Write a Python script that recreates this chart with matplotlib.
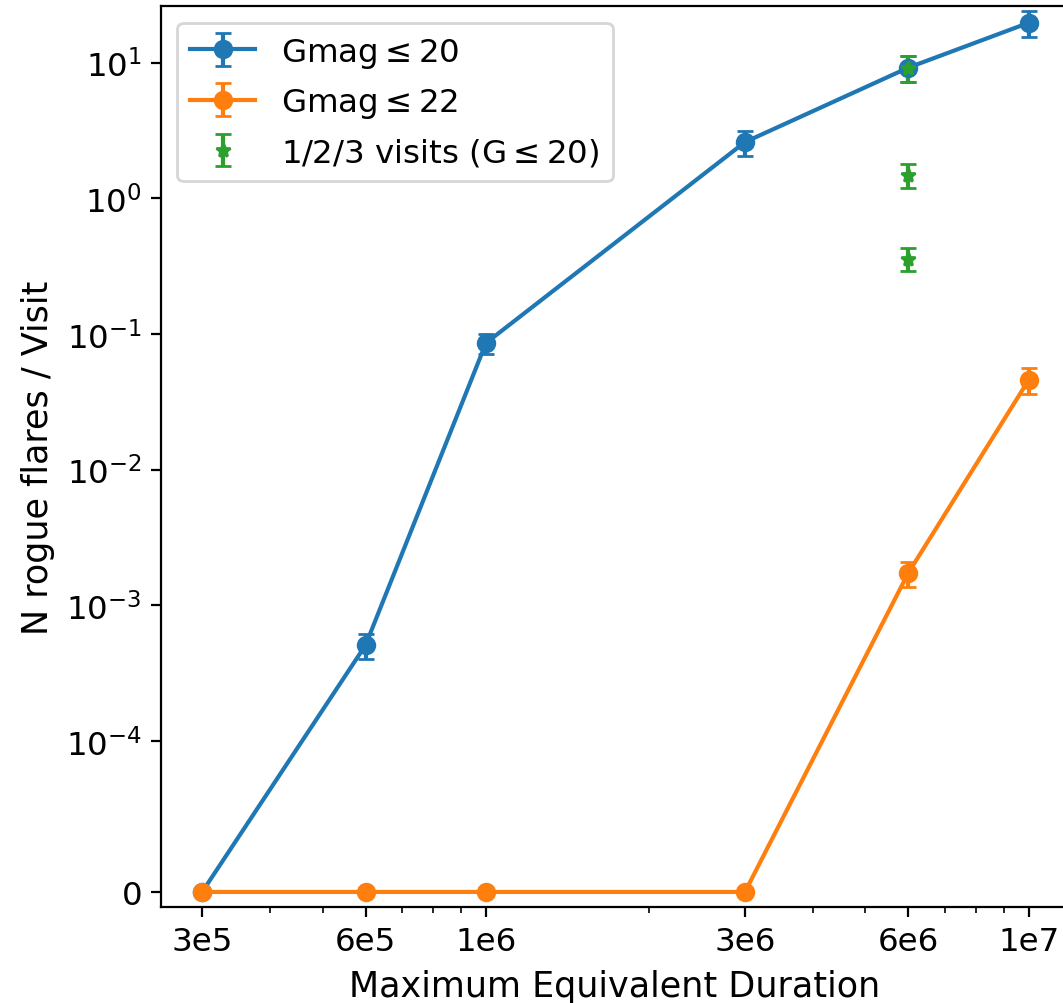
import numpy as np
import matplotlib
matplotlib.use('Agg')
from matplotlib import pyplot as plt
from matplotlib import ticker

#数据
med = [3e5, 6e5, 1e6, 3e6, 6e6, 1e7]
tick_labels = ['3e5', '6e5', '1e6', '3e6', '6e6', '1e7']

#Gmag<=20
n_g20 = [0, 5.1e-4, 0.086, 2.6, 9.2, 19.7]
err_g20 = [0, 1.1e-4, 0.015, 0.55, 2.0, 4.3]

#Gmag<=22
n_g22 = [0, 0, 0, 0, 1.74e-3, 0.046]
err_g22 = [0, 0, 0, 0, 0.36e-3, 0.010]

#1/2/3 visits (G<=20)
visit_x = [6e6, 6e6, 6e6]
n_visits = [9.2, 1.5, 0.36]
err_visits = [2.0, 0.3, 0.07]

dpi = 200
fig = plt.figure(figsize=(1063 / dpi, 1004 / dpi), dpi=dpi)
ax = fig.add_axes([0.1515, 0.0956, 0.853, 0.897])

ax.errorbar(med, n_g20, yerr=err_g20, fmt='o-', capsize=3, label='Gmag$\\leq$20')
ax.errorbar(med, n_g22, yerr=err_g22, fmt='o-', capsize=3, label='Gmag$\\leq$22')
ax.errorbar(visit_x, n_visits, yerr=err_visits, fmt='*', markersize=5, capsize=3,
            label='1/2/3 visits (G$\\leq$20)')

ax.set_xscale('log')
ax.set_yscale('symlog', linthresh=1e-4, linscale=1)
ax.yaxis.set_minor_locator(ticker.NullLocator())
ax.set_xlim(2.52e5, 1.18e7)
ax.set_ylim(-1e-5, 26)

ax.set_xticks(med)
ax.set_xticklabels(tick_labels)
ax.xaxis.set_minor_formatter(ticker.NullFormatter())
ax.tick_params(axis='both', which='major', labelsize=11.7)

ax.set_xlabel('Maximum Equivalent Duration', fontsize=12.6)
ax.set_ylabel('N rogue flares / Visit', fontsize=12.6)
ax.legend(loc='upper left', fontsize=11.7)

fig.savefig('out.png', dpi=dpi)
